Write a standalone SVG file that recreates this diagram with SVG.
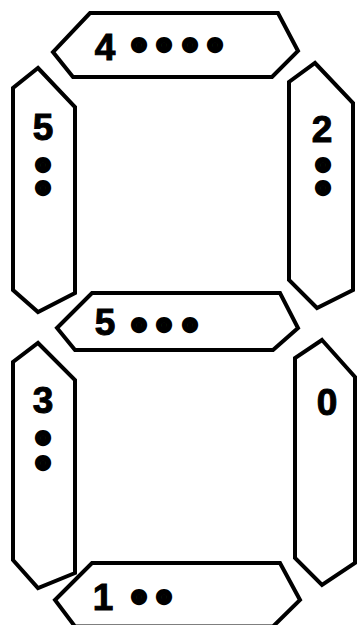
<svg xmlns="http://www.w3.org/2000/svg" width="357" height="625" viewBox="0 0 357 625">
<style>
.seg{fill:#fff;stroke:#000;stroke-width:4;stroke-linejoin:miter}
.dg{font-family:"Liberation Sans",Arial,sans-serif;font-weight:bold;font-size:37px;fill:#000;stroke:#000;stroke-width:1;text-anchor:middle}
.dt{font-family:"Liberation Sans",Arial,sans-serif;font-weight:bold;font-size:20px;fill:#000;stroke:#000;stroke-width:10.5;stroke-linejoin:round;text-anchor:middle}
</style>
<rect width="357" height="625" fill="#fff"/>
<g id="seg-top">
<polygon class="seg" points="90,13 278,13 298,51 272,77 73,77 53,52"/>
<text class="dg" x="105" y="60">4<tspan class="dt" x="139" y="52">•</tspan><tspan class="dt" x="164" y="52">•</tspan><tspan class="dt" x="190" y="52">•</tspan><tspan class="dt" x="215" y="52">•</tspan></text>
</g>
<g id="seg-upper-left">
<polygon class="seg" points="38,68 75,107 75,293 38,312 13,290 13,88"/>
<text class="dg" x="43" y="140">5<tspan class="dt" x="43" y="172">•</tspan><tspan class="dt" x="43" y="195">•</tspan></text>
</g>
<g id="seg-upper-right">
<polygon class="seg" points="315,63 353,103 353,290 317,308 289,280 289,82"/>
<text class="dg" x="322" y="142">2<tspan class="dt" x="323" y="172">•</tspan><tspan class="dt" x="323" y="195">•</tspan></text>
</g>
<g id="seg-middle">
<polygon class="seg" points="92,293 280,293 298,328 273,350 75,350 57,328"/>
<text class="dg" x="105" y="335">5<tspan class="dt" x="139" y="332">•</tspan><tspan class="dt" x="164" y="332">•</tspan><tspan class="dt" x="190" y="332">•</tspan></text>
</g>
<g id="seg-lower-left">
<polygon class="seg" points="38,343 75,380 75,573 38,588 13,560 13,362"/>
<text class="dg" x="43" y="413">3<tspan class="dt" x="43" y="445">•</tspan><tspan class="dt" x="43" y="470">•</tspan></text>
</g>
<g id="seg-lower-right">
<polygon class="seg" points="322,340 355,377 355,563 322,585 295,558 295,358"/>
<text class="dg" x="327" y="415">0</text>
</g>
<g id="seg-bottom">
<polygon class="seg" points="92,563 280,563 300,600 273,626.5 75,626.5 55,600"/>
<text class="dg" x="103" y="610">1<tspan class="dt" x="139" y="604">•</tspan><tspan class="dt" x="164" y="604">•</tspan></text>
</g>
<g id="connectors"/>
</svg>
